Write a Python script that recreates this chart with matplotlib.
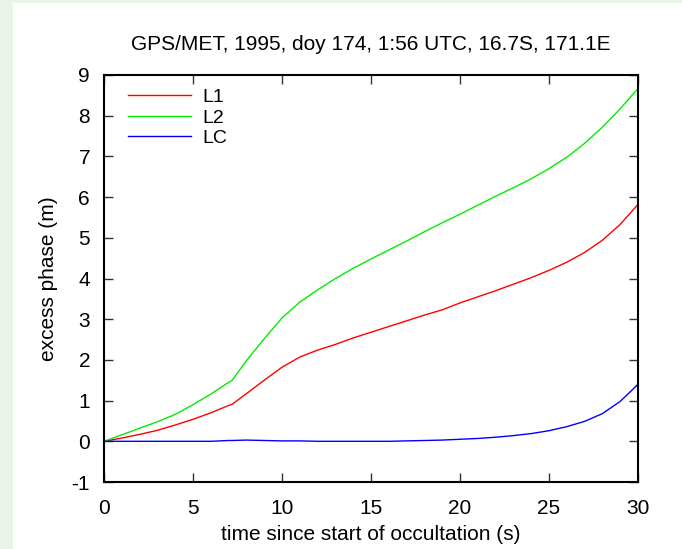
import matplotlib.pyplot as plt
import numpy as np

# excess phase (m) vs time since start of occultation (s)
t = [0, 1, 2, 3, 4, 5, 6, 7, 7.2, 8, 9, 10, 11, 12, 13, 14, 15, 16, 17, 18,
     19, 20, 21, 22, 23, 24, 25, 26, 27, 28, 29, 30]
l1 = [0.0, 0.08, 0.17, 0.27, 0.40, 0.54, 0.70, 0.88, 0.91, 1.17, 1.50, 1.82,
      2.07, 2.24, 2.38, 2.54, 2.68, 2.82, 2.96, 3.10, 3.23, 3.40, 3.55, 3.70,
      3.86, 4.02, 4.20, 4.40, 4.64, 4.94, 5.33, 5.82]
l2 = [0.0, 0.16, 0.32, 0.48, 0.66, 0.90, 1.16, 1.45, 1.50, 1.98, 2.52, 3.03,
      3.42, 3.72, 4.00, 4.25, 4.48, 4.70, 4.92, 5.15, 5.37, 5.58, 5.80, 6.02,
      6.23, 6.45, 6.70, 6.98, 7.32, 7.72, 8.17, 8.67]
lc = [0.0, 0.0, 0.0, 0.0, 0.0, 0.0, 0.0, 0.02, 0.02, 0.03, 0.02, 0.01,
      0.01, 0.0, 0.0, 0.0, 0.0, 0.0, 0.01, 0.02, 0.03, 0.05, 0.07, 0.10,
      0.14, 0.19, 0.26, 0.36, 0.49, 0.68, 0.98, 1.40]

labels = ["L1", "L2", "LC"]
colors = ["#ff0000", "#00ee00", "#0000ff"]

plt.rcParams['font.family'] = ['Liberation Sans', 'DejaVu Sans']
plt.rcParams['axes.unicode_minus'] = False

fig = plt.figure(figsize=(6.82, 5.49), dpi=100, facecolor="#e8f4e6")
# white panel behind the plot
fig.patches.append(plt.Rectangle((13 / 682, 0), 1, 1 - 3 / 549, transform=fig.transFigure,
                                 facecolor="white", edgecolor="none", zorder=-10))
ax = fig.add_axes([104 / 682, 1 - 482 / 549, (638 - 104) / 682, (482 - 75) / 549])
ax.set_facecolor("white")

for y, lab, c in zip([l1, l2, lc], labels, colors):
    ax.plot(t, y, color=c, lw=1.0, label=lab)

ax.set_xlim(0, 30)
ax.set_ylim(-1, 9)
ax.set_xticks(np.arange(0, 31, 5))
ax.set_yticks(np.arange(-1, 10, 1))
ax.tick_params(direction="in", length=6.5, width=1, color="#333333", labelsize=15,
               top=True, right=True, pad=10)
ax.tick_params(axis="x", pad=12)
for s in ax.spines.values():
    s.set_linewidth(1.5)

ax.set_title("GPS/MET, 1995, doy 174, 1:56 UTC, 16.7S, 171.1E", fontsize=15, pad=18)
ax.set_xlabel("time since start of occultation (s)", fontsize=15, labelpad=5)
ax.set_ylabel("excess phase (m)", fontsize=15, labelpad=10)

ax.legend(loc="upper left", frameon=False, fontsize=14, handlelength=3.2,
          handletextpad=0.6, labelspacing=0.15, borderaxespad=0.3,
          bbox_to_anchor=(0.02, 1.0))

fig.savefig("out.png", dpi=100, facecolor=fig.get_facecolor())
